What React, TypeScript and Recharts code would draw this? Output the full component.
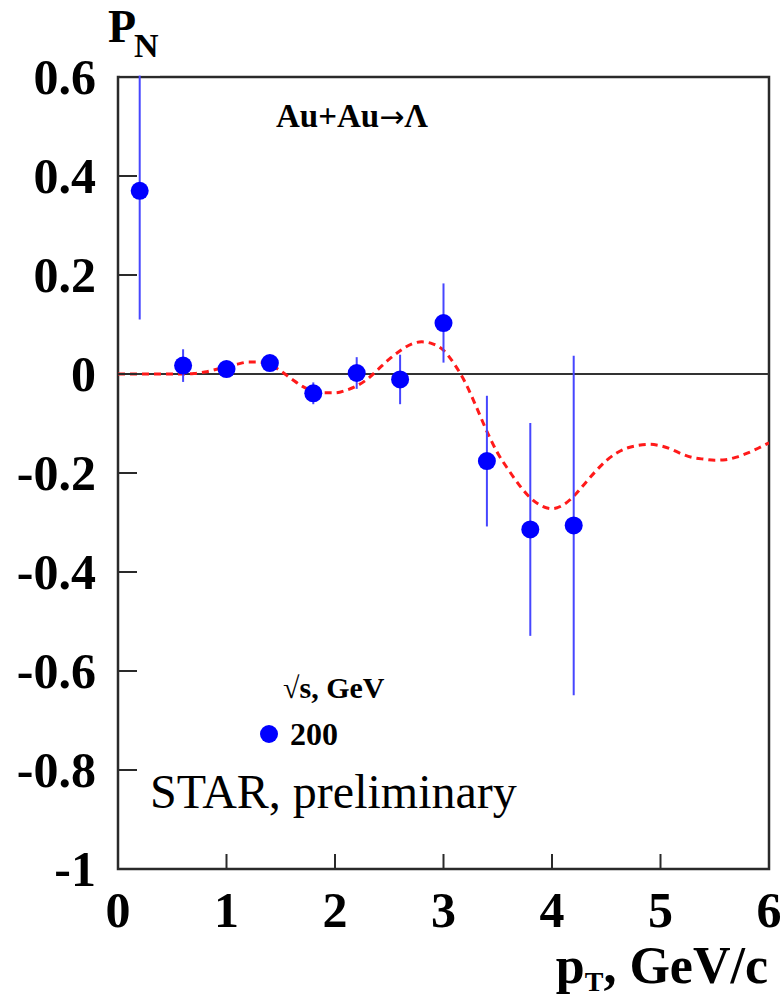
import React from "react";
import {
  ComposedChart,
  XAxis,
  YAxis,
  Scatter,
  Line,
  ErrorBar,
  ReferenceLine,
  ReferenceArea,
} from "recharts";

// Lambda polarization vs transverse momentum, Au+Au at 200 GeV
const ptBins = [0.2, 0.6, 1.0, 1.4, 1.8, 2.2, 2.6, 3.0, 3.4, 3.8, 4.2];
const polarization = [0.37, 0.017, 0.01, 0.022, -0.039, 0.002, -0.011, 0.103, -0.176, -0.314, -0.306];
const polarizationErr = [0.26, 0.033, 0.015, 0.015, 0.022, 0.032, 0.05, 0.08, 0.132, 0.215, 0.343];

// Model curve
const fitPt = [
  0.0, 0.1, 0.2, 0.3, 0.4, 0.5, 0.6, 0.7, 0.8, 0.9,
  1.0, 1.1, 1.2, 1.3, 1.4, 1.5, 1.6, 1.7, 1.8, 1.9,
  2.0, 2.1, 2.2, 2.3, 2.4, 2.5, 2.6, 2.7, 2.8, 2.9,
  3.0, 3.1, 3.2, 3.3, 3.4, 3.5, 3.6, 3.7, 3.8, 3.9,
  4.0, 4.1, 4.2, 4.3, 4.4, 4.5, 4.6, 4.7, 4.8, 4.9,
  5.0, 5.1, 5.2, 5.3, 5.4, 5.5, 5.6, 5.7, 5.8, 5.9, 6.0,
];
const fitValues = [
  0, 0, 0, 0, 0, 0, 0, 0.001, 0.004, 0.009,
  0.015, 0.02, 0.024, 0.024, 0.019, 0.006, -0.01, -0.025, -0.034, -0.038,
  -0.038, -0.033, -0.024, -0.01, 0.01, 0.03, 0.047, 0.06, 0.065, 0.061,
  0.048, 0.02, -0.017, -0.065, -0.116, -0.16, -0.194, -0.225, -0.25, -0.266,
  -0.272, -0.265, -0.247, -0.222, -0.197, -0.175, -0.159, -0.149, -0.144, -0.142,
  -0.145, -0.152, -0.162, -0.169, -0.172, -0.174, -0.173, -0.168, -0.16, -0.15, -0.139,
];

const xTicks = [0, 1, 2, 3, 4, 5, 6];
const yTicks = [0.6, 0.4, 0.2, 0, -0.2, -0.4, -0.6, -0.8, -1];

const legendTitle = "\u221As, GeV";
const legendEntry = "200";
const note = "STAR, preliminary";

const points = ptBins.map((x, i) => ({ x, y: polarization[i], err: polarizationErr[i] }));
const curve = fitPt.map((x, i) => ({ x, y: fitValues[i] }));

const W = 783;
const H = 997;
const SERIF = "'Liberation Serif', 'Times New Roman', serif";
const FRAME = "#2a2a2a";

const YTick = (props: any) => {
  const { x, y, payload } = props;
  return (
    <g>
      <line x1={x} y1={y} x2={x + 19} y2={y} stroke={FRAME} strokeWidth={2} />
      <text
        x={x - 22}
        y={y}
        dy={17}
        textAnchor="end"
        fontFamily={SERIF}
        fontWeight="bold"
        fontSize={50}
        fill="#000"
      >
        {String(payload.value)}
      </text>
    </g>
  );
};

const XTick = (props: any) => {
  const { x, y, payload } = props;
  return (
    <g>
      <line x1={x} y1={y} x2={x} y2={y - 15} stroke={FRAME} strokeWidth={2} />
      <text
        x={x}
        y={y + 58}
        textAnchor="middle"
        fontFamily={SERIF}
        fontWeight="bold"
        fontSize={50}
        fill="#000"
      >
        {String(payload.value)}
      </text>
    </g>
  );
};

const Dot = (props: any) => {
  const { cx, cy } = props;
  if (cx == null || cy == null) return null;
  return <circle cx={cx} cy={cy} r={9} fill="#0000ff" />;
};

export default function App() {
  return (
    <div style={{ position: "relative", width: W, height: H, background: "#fff" }}>
      <style>{"body{margin:0}"}</style>
      <ComposedChart
        width={W}
        height={H}
        margin={{ top: 77, right: 14, bottom: 68, left: 58 }}
      >
        <XAxis
          type="number"
          dataKey="x"
          domain={[0, 6]}
          ticks={xTicks}
          height={60}
          tickSize={0}
          tickMargin={0}
          axisLine={false}
          tickLine={false}
          tick={<XTick />}
          allowDataOverflow
          interval={0}
        />
        <YAxis
          type="number"
          dataKey="y"
          domain={[-1, 0.6]}
          ticks={yTicks}
          width={60}
          tickSize={0}
          tickMargin={0}
          axisLine={false}
          tickLine={false}
          tick={<YTick />}
          allowDataOverflow
          interval={0}
        />
        <ReferenceArea
          x1={0}
          x2={6}
          y1={-1}
          y2={0.6}
          fill="none"
          stroke={FRAME}
          strokeWidth={2.5}
          ifOverflow="visible"
        />
        <ReferenceLine y={0} stroke="#333" strokeWidth={2} />
        <Line
          data={curve}
          dataKey="y"
          type="monotone"
          stroke="#ff1a1a"
          strokeWidth={3}
          strokeDasharray="7 5"
          dot={false}
          activeDot={false}
          isAnimationActive={false}
        />
        <Scatter data={points} dataKey="y" shape={<Dot />} isAnimationActive={false}>
          <ErrorBar dataKey="err" direction="y" width={0} stroke="#4646ff" strokeWidth={2} />
        </Scatter>
      </ComposedChart>
      <svg
        width={W}
        height={H}
        style={{ position: "absolute", left: 0, top: 0, pointerEvents: "none" }}
      >
        {/* keep the error bars inside the frame at the top edge */}
        <rect x={120} y={0} width={40} height={75.5} fill="#fff" />
        <text x={108} y={42} fontFamily={SERIF} fontWeight="bold" fontSize={46} fill="#000">
          P
        </text>
        <text x={134} y={57} fontFamily={SERIF} fontWeight="bold" fontSize={34} fill="#000">
          N
        </text>
        <text x={276} y={127} fontFamily={SERIF} fontWeight="bold" fontSize={33} fill="#000">
          <tspan>Au+Au</tspan>
          <tspan fontFamily="'DejaVu Sans', sans-serif" fontWeight="normal" fontSize={30}>
            {"\u2192"}
          </tspan>
          <tspan>{"\u039B"}</tspan>
        </text>
        <text x={283} y={698} fontFamily={SERIF} fontWeight="bold" fontSize={30} fill="#000">
          {legendTitle}
        </text>
        <circle cx={269} cy={734} r={9} fill="#0000ff" />
        <text x={290} y={745} fontFamily={SERIF} fontWeight="bold" fontSize={32} fill="#000">
          {legendEntry}
        </text>
        <text x={150} y={808} fontFamily={SERIF} fontSize={48} fill="#000">
          {note}
        </text>
        <text
          x={768}
          y={983}
          textAnchor="end"
          fontFamily={SERIF}
          fontWeight="bold"
          fontSize={52}
          fill="#000"
        >
          <tspan>p</tspan>
          <tspan fontSize={28} dy={8}>T</tspan>
          <tspan dy={-8}>, GeV/c</tspan>
        </text>
      </svg>
    </div>
  );
}
